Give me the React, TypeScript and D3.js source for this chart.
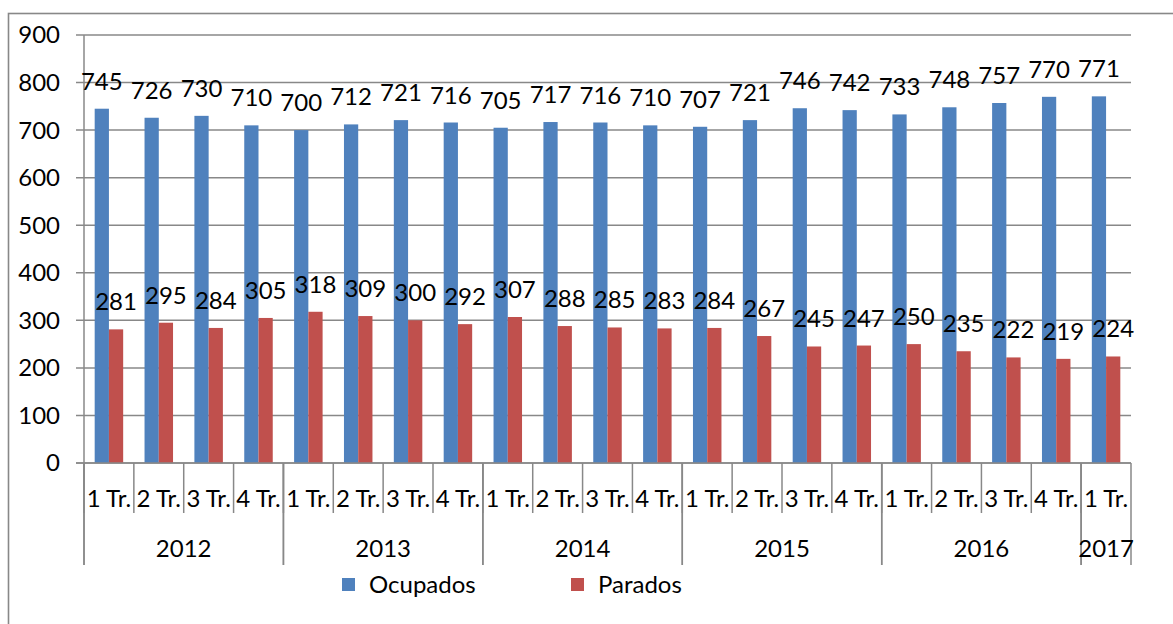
import React from "react";
import * as d3 from "d3";

const quarters = ["1 Tr.", "2 Tr.", "3 Tr.", "4 Tr.", "1 Tr.", "2 Tr.", "3 Tr.", "4 Tr.", "1 Tr.", "2 Tr.", "3 Tr.", "4 Tr.", "1 Tr.", "2 Tr.", "3 Tr.", "4 Tr.", "1 Tr.", "2 Tr.", "3 Tr.", "4 Tr.", "1 Tr."];
const years = ["2012", "2013", "2014", "2015", "2016", "2017"];
const yearCounts = [4, 4, 4, 4, 4, 1];
const ocupados = [745, 726, 730, 710, 700, 712, 721, 716, 705, 717, 716, 710, 707, 721, 746, 742, 733, 748, 757, 770, 771];
const parados = [281, 295, 284, 305, 318, 309, 300, 292, 307, 288, 285, 283, 284, 267, 245, 247, 250, 235, 222, 219, 224];
const yTicks = [0, 100, 200, 300, 400, 500, 600, 700, 800, 900];
const seriesNames = ["Ocupados", "Parados"];

const W = 1173, H = 624;
const left = 84, right = 1131, top = 35, bottom = 463;
const BLUE = "#4F81BD", RED = "#C0504D", GRID = "#888888";
const FONT = "Lato, 'Open Sans', sans-serif";
const FS = 24;

export default function App() {
  const idx = quarters.map((_, i) => String(i));
  const x = d3.scaleBand<string>().domain(idx).range([left, right]).paddingInner(0).paddingOuter(0);
  const y = d3.scaleLinear().domain([0, 900]).range([bottom, top]);
  const bw = x.bandwidth() / 3.5;
  const off = (x.bandwidth() - 2 * bw) / 2;

  const yearBounds: { name: string; start: number; end: number }[] = [];
  let acc = 0;
  years.forEach((yr, i) => {
    const s = x(String(acc))!;
    const eIdx = acc + yearCounts[i] - 1;
    const e = x(String(eIdx))! + x.bandwidth();
    yearBounds.push({ name: yr, start: s, end: e });
    acc += yearCounts[i];
  });

  return (
    <div style={{ position: "absolute", left: 0, top: 0 }}>
      <svg width={W} height={H} style={{ display: "block" }} fontFamily={FONT}>
        <rect x={0} y={0} width={W} height={H} fill="#fff" />
        <rect x={8.5} y={13.5} width={W + 20} height={H + 20} fill="none" stroke={GRID} strokeWidth={1.6} />
        {yTicks.map((t) => (
          <g key={t}>
            <line x1={76} x2={right} y1={y(t)} y2={y(t)} stroke={GRID} strokeWidth={1.5} />
            <text x={60} y={y(t)} dy="0.35em" textAnchor="end" fontSize={FS} fill="#000">{t}</text>
          </g>
        ))}
        {ocupados.map((v, i) => (
          <rect key={"o" + i} x={x(String(i))! + off} y={y(v)} width={bw} height={bottom - y(v)} fill={BLUE} />
        ))}
        {parados.map((v, i) => (
          <rect key={"p" + i} x={x(String(i))! + off + bw} y={y(v)} width={bw} height={bottom - y(v)} fill={RED} />
        ))}
        <line x1={left} x2={left} y1={top} y2={565} stroke={GRID} strokeWidth={1.5} />
        <line x1={76} x2={right} y1={bottom} y2={bottom} stroke={GRID} strokeWidth={1.5} />
        {idx.map((k, i) => (
          <line key={"t" + i} x1={x(k)!} x2={x(k)!} y1={bottom} y2={513} stroke={GRID} strokeWidth={1.5} />
        ))}
        {yearBounds.map((b) => (
          <g key={b.name}>
            <line x1={b.start} x2={b.start} y1={bottom} y2={565} stroke={GRID} strokeWidth={1.5} />
            <line x1={b.end} x2={b.end} y1={bottom} y2={565} stroke={GRID} strokeWidth={1.5} />
            <text x={(b.start + b.end) / 2} y={549} dy="0.35em" textAnchor="middle" fontSize={FS} fill="#000">{b.name}</text>
          </g>
        ))}
        {quarters.map((q, i) => (
          <text key={"q" + i} x={x(String(i))! + x.bandwidth() / 2} y={499} dy="0.35em" textAnchor="middle" fontSize={FS} fill="#000">{q}</text>
        ))}
        {ocupados.map((v, i) => (
          <text key={"lo" + i} x={x(String(i))! + off + bw / 2} y={y(v) - 19} textAnchor="middle" fontSize={FS} fill="#000">{v}</text>
        ))}
        {parados.map((v, i) => (
          <text key={"lp" + i} x={x(String(i))! + off + bw * 1.5} y={y(v) - 19} textAnchor="middle" fontSize={FS} fill="#000">{v}</text>
        ))}
        <rect x={342} y={578} width={13} height={13} fill={BLUE} />
        <text x={369} y={585} dy="0.35em" fontSize={FS} fill="#000">{seriesNames[0]}</text>
        <rect x={571} y={578} width={13} height={13} fill={RED} />
        <text x={598} y={585} dy="0.35em" fontSize={FS} fill="#000">{seriesNames[1]}</text>
      </svg>
    </div>
  );
}
